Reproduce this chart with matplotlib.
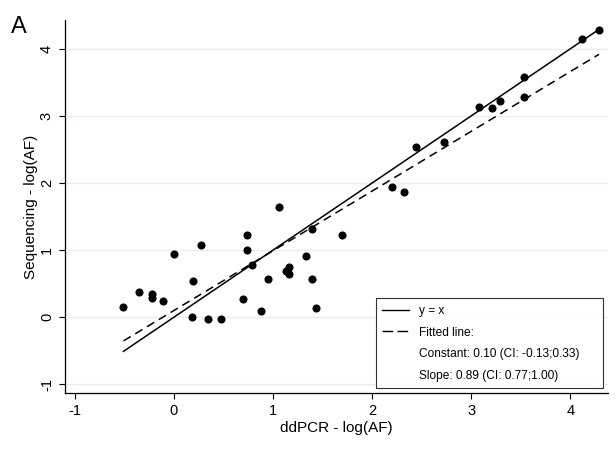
import matplotlib
matplotlib.use("Agg")
import matplotlib.pyplot as plt
from matplotlib.lines import Line2D
import numpy as np

plt.rcParams['font.family'] = ['Liberation Sans', 'DejaVu Sans']

ddpcr = [-0.51, -0.35, -0.22, -0.22, -0.11, 0.00, 0.19, 0.18, 0.27, 0.34, 0.47,
         0.70, 0.74, 0.74, 0.79, 0.88, 0.95, 1.06, 1.13, 1.16, 1.16, 1.33, 1.39,
         1.39, 1.43, 1.70, 2.20, 2.32, 2.44, 2.72, 3.08, 3.21, 3.29, 3.53, 3.53,
         4.12, 4.29]
seq = [0.15, 0.37, 0.34, 0.28, 0.24, 0.94, 0.54, 0.00, 1.08, -0.03, -0.03,
       0.27, 1.23, 1.00, 0.77, 0.09, 0.57, 1.64, 0.69, 0.75, 0.65, 0.91, 1.31,
       0.57, 0.14, 1.22, 1.94, 1.87, 2.53, 2.61, 3.13, 3.11, 3.22, 3.58, 3.28,
       4.15, 4.28]
fit_const = 0.10
fit_slope = 0.89
xticks = [-1, 0, 1, 2, 3, 4]
yticks = [-1, 0, 1, 2, 3, 4]
legend_labels = ['y = x', 'Fitted line:', 'Constant: 0.10 (CI: -0.13;0.33)',
                 'Slope: 0.89 (CI: 0.77;1.00)']

fig = plt.figure(figsize=(6.16, 4.53), dpi=100)
ax = fig.add_axes([0.1055, 0.1325, 0.8815, 0.8235])

x = np.array(ddpcr)
xr = np.array([x.min(), x.max()])
for yt in yticks:
    ax.axhline(yt, color='#e6eff1', lw=1.0, zorder=0)
ax.plot(xr, xr, color='black', lw=1.1, zorder=2)
ax.plot(xr, fit_const + fit_slope * xr, color='black', lw=1.1,
        dashes=(5.5, 3.5), zorder=2)
ax.scatter(ddpcr, seq, s=34, color='black', zorder=3, linewidths=0)

ax.set_xlim(-1.10, 4.38)
ax.set_ylim(-1.13, 4.43)
ax.set_xticks(xticks)
ax.set_yticks(yticks)
ax.set_xticklabels([str(t) for t in xticks])
ax.set_yticklabels([str(t) for t in yticks], rotation=90, va='center')
ax.tick_params(axis='both', labelsize=10.5, length=4.5, width=0.8,
               direction='out', pad=3.5)
for s in ['top', 'right']:
    ax.spines[s].set_visible(False)
for s in ['left', 'bottom']:
    ax.spines[s].set_linewidth(0.9)
ax.set_xlabel('ddPCR - log(AF)', fontsize=11, labelpad=2)
ax.set_ylabel('Sequencing - log(AF)', fontsize=11, labelpad=1)

handles = [Line2D([], [], color='black', lw=1.0),
           Line2D([], [], color='black', lw=1.0, dashes=(7.7, 3.1)),
           Line2D([], [], color='none'),
           Line2D([], [], color='none')]
leg = ax.legend(handles, legend_labels, loc='lower left', mode='expand',
                bbox_to_anchor=(0.61, 0.143, 0.369, 0.19),
                bbox_transform=fig.transFigure,
                fontsize=8.6, frameon=True, fancybox=False, handlelength=2.2,
                handletextpad=0.85, labelspacing=0.8, borderpad=0.55,
                borderaxespad=0)
leg.get_frame().set_edgecolor('black')
leg.get_frame().set_linewidth(0.8)

fig.text(0.018, 0.965, 'A', fontsize=17, va='top', ha='left')

fig.savefig('out.png', dpi=100)
